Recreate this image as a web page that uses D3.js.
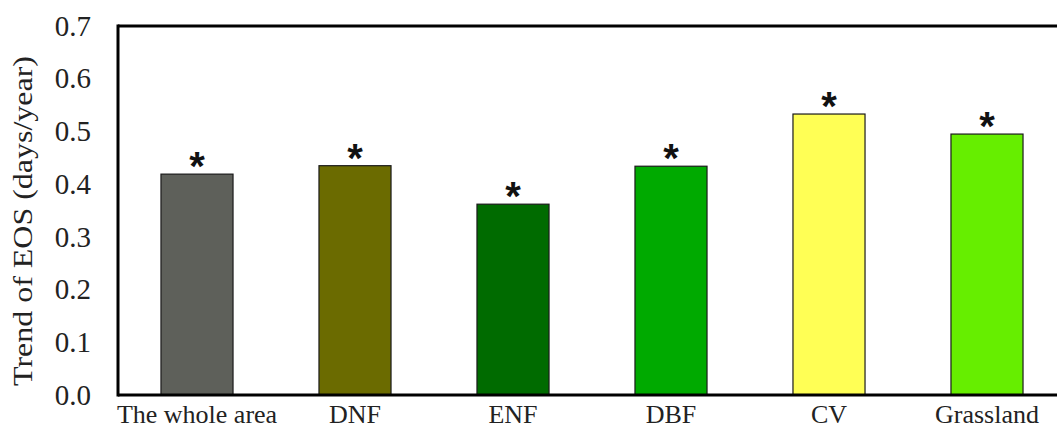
<!DOCTYPE html>
<html>
<head>
<meta charset="utf-8">
<script src="https://cdn.jsdelivr.net/npm/d3@7"></script>
<style>
  html, body { margin: 0; padding: 0; background: #fff; }
  svg { display: block; }
  text { font-family: "Liberation Serif", "Times New Roman", serif; fill: #222; }
</style>
</head>
<body>
<svg id="chart" width="1057" height="428"></svg>
<script>
// EOS trend per vegetation type (days/year)
const categories = ["The whole area", "DNF", "ENF", "DBF", "CV", "Grassland"];
const trendValues = [0.419, 0.435, 0.362, 0.434, 0.533, 0.495];
const significant = [true, true, true, true, true, true];
const barColors = ["#5e605a", "#6b6b00", "#006b00", "#00aa00", "#ffff55", "#66ee00"];
const yTicks = [0, 0.1, 0.2, 0.3, 0.4, 0.5, 0.6, 0.7];

const svg = d3.select("#chart");
const plot = { left: 118, right: 1066, top: 26, bottom: 395 };

const x = d3.scaleBand()
  .domain(categories)
  .range([plot.left, plot.right])
  .paddingInner(0.544)
  .paddingOuter(0.272);

const y = d3.scaleLinear()
  .domain([0, 0.7])
  .range([plot.bottom, plot.top]);

// bars
svg.append("g")
  .selectAll("rect")
  .data(categories)
  .join("rect")
  .attr("x", d => x(d))
  .attr("y", (d, i) => y(trendValues[i]))
  .attr("width", x.bandwidth())
  .attr("height", (d, i) => y(0) - y(trendValues[i]))
  .attr("fill", (d, i) => barColors[i])
  .attr("stroke", "#1a1a1a")
  .attr("stroke-width", 1.2);

// significance markers
svg.append("g")
  .selectAll("text")
  .data(categories.filter((d, i) => significant[i]))
  .join("text")
  .attr("x", d => x(d) + x.bandwidth() / 2)
  .attr("y", d => y(trendValues[categories.indexOf(d)]) + 6)
  .attr("text-anchor", "middle")
  .style("font-family", "'Liberation Sans', Arial, sans-serif")
  .style("font-weight", "bold")
  .style("font-size", "40px")
  .style("fill", "#111")
  .text("*");

// frame: left, top and bottom lines
const frame = svg.append("g").attr("stroke", "#000").attr("stroke-width", 3).attr("fill", "none");
frame.append("line").attr("x1", plot.left).attr("x2", plot.left).attr("y1", plot.top - 1.5).attr("y2", plot.bottom + 1.5);
frame.append("line").attr("x1", plot.left).attr("x2", plot.right).attr("y1", plot.top).attr("y2", plot.top);
frame.append("line").attr("x1", plot.left).attr("x2", plot.right).attr("y1", plot.bottom).attr("y2", plot.bottom);

// y axis tick labels
const yAxis = d3.axisLeft(y)
  .tickValues(yTicks)
  .tickFormat(d3.format(".1f"))
  .tickSize(0)
  .tickPadding(27);
const yg = svg.append("g").attr("transform", `translate(${plot.left},0)`).call(yAxis);
yg.select(".domain").remove();
yg.selectAll("text")
  .style("font-family", "'Liberation Serif', 'Times New Roman', serif")
  .style("font-size", "29px")
  .attr("fill", "#222");

// x axis category labels
const xAxis = d3.axisBottom(x).tickSize(0).tickPadding(10);
const xg = svg.append("g").attr("transform", `translate(0,${plot.bottom})`).call(xAxis);
xg.select(".domain").remove();
xg.selectAll("text")
  .style("font-family", "'Liberation Serif', 'Times New Roman', serif")
  .style("font-size", "26px")
  .attr("fill", "#222");

// y axis title
svg.append("text")
  .attr("transform", "translate(32,221) rotate(-90)")
  .attr("text-anchor", "middle")
  .style("font-size", "27px")
  .attr("textLength", 330)
  .attr("lengthAdjust", "spacingAndGlyphs")
  .text("Trend of EOS (days/year)");
</script>
</body>
</html>
